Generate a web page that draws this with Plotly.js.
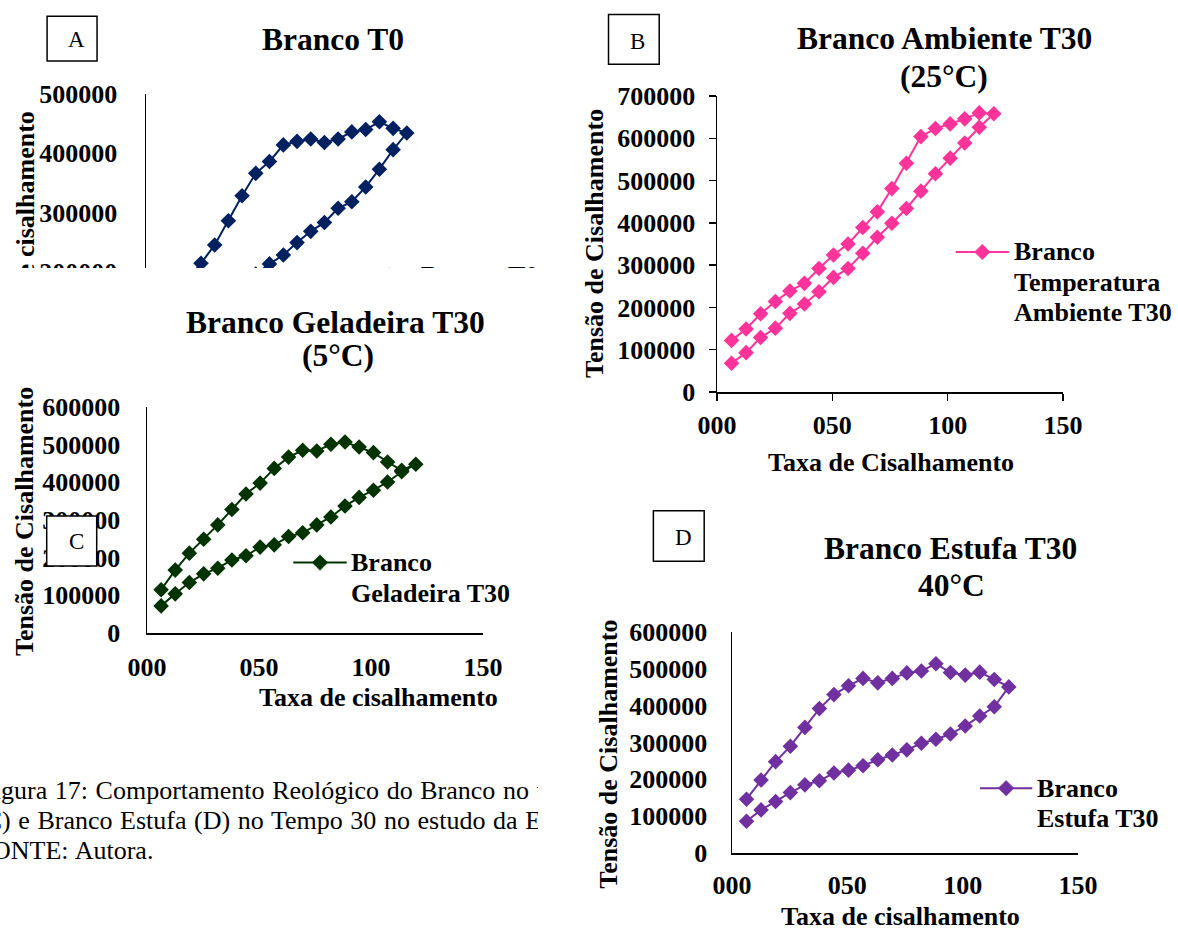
<!DOCTYPE html>
<html>
<head>
<meta charset="utf-8">
<script src="https://cdn.plot.ly/plotly-3.0.1.min.js"></script>
<style>
  html, body { margin: 0; padding: 0; background: #fff; }
  body { width: 1178px; height: 929px; position: relative; overflow: hidden; }
  .painel { position: absolute; }
  #legenda { position: absolute; left: 0; top: 760px; width: 538px; height: 120px; overflow: hidden;
             font-family: "Liberation Serif", "Times New Roman", serif; font-size: 26px; color: #000; }
  #legenda .linha { position: absolute; white-space: nowrap; line-height: 30px; word-spacing: 1.1px; }
  #legenda .antes { position: absolute; right: 100%; top: 0; white-space: nowrap; }
</style>
</head>
<body>
<div id="legenda">
  <div class="linha" style="left:1px; top:16px;"><span class="antes">Fi</span>gura 17: Comportamento Reológico do Branco no tempo zero (A), Branco Ambiente (B),</div>
  <div class="linha" style="left:2px; top:46px;"><span class="antes">Branco Geladeira (C</span>) e Branco Estufa (D) no Tempo 30 no estudo da Estabilidade.</div>
  <div class="linha" style="left:-8px; top:76px;"><span class="antes">F</span>ONTE: Autora.</div>
</div>
<div id="pA" class="painel"></div>
<div id="pB" class="painel"></div>
<div id="pC" class="painel"></div>
<div id="pD" class="painel"></div>
<script>
// Shear rate (1/s): up ramp, then down ramp
const taxaSubida = [6.3, 12.6, 18.9, 25.3, 31.6, 37.9, 44.2, 50.5, 56.8, 63.2, 69.5, 75.8, 82.1, 88.4, 94.7, 101.1, 107.4, 113.7, 120.0];
const taxaDescida = [113.7, 107.4, 101.1, 94.7, 88.4, 82.1, 75.8, 69.5, 63.2, 56.8, 50.5, 44.2, 37.9, 31.6, 25.3, 18.9, 12.6, 6.3];

// Shear stress — Branco T0
const tensaoT0Subida = [130000, 160000, 186000, 214000, 245000, 286000, 328000, 366000, 386000, 414000, 420000, 424000, 418000, 424000, 436000, 440000, 453000, 442000, 434000];
const tensaoT0Descida = [406000, 373000, 343000, 318000, 307000, 283000, 268000, 249000, 228000, 213000, 196000, 178000, 160000, 140000, 122000, 104000, 88000, 70000];

// Shear stress — Branco Ambiente T30 (25 °C)
const tensaoAmbSubida = [122000, 149000, 185000, 214000, 239000, 257000, 292000, 324000, 350000, 389000, 426000, 481000, 541000, 604000, 623000, 634000, 646000, 660000, 658000];
const tensaoAmbDescida = [626000, 589000, 553000, 516000, 475000, 434000, 399000, 366000, 328000, 292000, 271000, 237000, 208000, 186000, 151000, 129000, 93000, 68000];

// Shear stress — Branco Geladeira T30 (5 °C)
const tensaoGelSubida = [115000, 167000, 212000, 249000, 287000, 328000, 369000, 398000, 437000, 467000, 485000, 483000, 501000, 507000, 494000, 479000, 454000, 432000, 448000];
const tensaoGelDescida = [428000, 401000, 379000, 360000, 337000, 308000, 287000, 266000, 256000, 234000, 228000, 205000, 194000, 172000, 157000, 134000, 104000, 72000];

// Shear stress — Branco Estufa T30 (40 °C)
const tensaoEstSubida = [146000, 198000, 248000, 290000, 341000, 392000, 430000, 454000, 474000, 462000, 474000, 489000, 494000, 514000, 490000, 483000, 491000, 471000, 451000];
const tensaoEstDescida = [397000, 372000, 345000, 323000, 309000, 298000, 280000, 266000, 253000, 237000, 225000, 217000, 196000, 185000, 164000, 140000, 117000, 86000];

// Axis ticks
const ticksTaxa = [0, 50, 100, 150];
const rotulosTaxa = ['000', '050', '100', '150'];

const SERIF = '"Liberation Serif", "Times New Roman", serif';
const TAM_MARCADOR = 12;

// Page geometry of each panel (div box and plot-area margins, in px)
const geo = {
  A: {left: 0,   top: 0,   w: 560, h: 420, l: 145.7, r: 88,    t: 94,    b: 29.5},
  B: {left: 580, top: 0,   w: 598, h: 480, l: 136.5, r: 114.8, t: 95.7,  b: 87.7},
  C: {left: 0,   top: 268, w: 560, h: 462, l: 147,   r: 77,    t: 138.7, b: 96.7},
  D: {left: 540, top: 490, w: 638, h: 439, l: 191.8, r: 100.3, t: 141.7, b: 75.7}
};

// page pixel -> paper fraction of a panel
function px(g, X) { return (X - g.left - g.l) / (g.w - g.l - g.r); }
function py(g, Y) { return 1 - (Y - g.top - g.t) / (g.h - g.t - g.b); }

function texto(g, s, X, Y, size, extra) {
  return Object.assign({
    text: s, xref: 'paper', yref: 'paper', x: px(g, X), y: py(g, Y),
    xanchor: 'center', yanchor: 'middle', showarrow: false, borderpad: 0,
    font: {family: SERIF, size: size, color: '#000', weight: 'bold'}
  }, extra || {});
}

function letra(g, s, X, Y) {
  return texto(g, s, X, Y, 23, {font: {family: SERIF, size: 23, color: '#000', weight: 'normal'}});
}

function caixa(g, x0, y0, x1, y1) {
  return {type: 'rect', xref: 'paper', yref: 'paper', layer: 'above',
          x0: px(g, x0), x1: px(g, x1), y0: py(g, y1), y1: py(g, y0),
          line: {color: '#000', width: 1.5}, fillcolor: '#fff'};
}

// legend sample: short line with a diamond in its middle
function amostra(g, x0, x1, Y, cor) {
  const cx = (x0 + x1) / 2, rd = TAM_MARCADOR / 2 * 1.3;
  const path = 'M' + px(g, cx) + ',' + py(g, Y - rd) +
               ' L' + px(g, cx + rd) + ',' + py(g, Y) +
               ' L' + px(g, cx) + ',' + py(g, Y + rd) +
               ' L' + px(g, cx - rd) + ',' + py(g, Y) + ' Z';
  return [
    {type: 'line', xref: 'paper', yref: 'paper', layer: 'above',
     x0: px(g, x0), x1: px(g, x1), y0: py(g, Y), y1: py(g, Y), line: {color: cor, width: 2}},
    {type: 'path', xref: 'paper', yref: 'paper', layer: 'above', path: path,
     fillcolor: cor, line: {color: cor, width: 0.5}}
  ];
}

function serie(xUp, xDown, yUp, yDown, cor) {
  return [{
    type: 'scatter', mode: 'lines+markers',
    x: xUp.concat(xDown), y: yUp.concat(yDown),
    line: {color: cor, width: 2},
    marker: {symbol: 'diamond', size: TAM_MARCADOR, color: cor, line: {width: 0}},
    showlegend: false, hoverinfo: 'skip'
  }];
}

function layoutPainel(g, yMax, opt) {
  const fonte = {family: SERIF, size: opt.tick || 26, color: '#000', weight: 'bold'};
  const comum = {showline: true, linecolor: '#000', linewidth: 1.5, showgrid: false, zeroline: false,
                 ticks: opt.marcas ? 'outside' : '', ticklen: 7, tickwidth: 1.5, tickcolor: '#000',
                 tickfont: fonte, fixedrange: true};
  return {
    width: g.w, height: g.h,
    margin: {l: g.l, r: g.r, t: g.t, b: g.b, pad: 0},
    paper_bgcolor: '#fff', plot_bgcolor: '#fff',
    showlegend: false,
    xaxis: Object.assign({}, comum, {range: [0, 150], tickmode: 'array', tickvals: ticksTaxa, ticktext: rotulosTaxa,
                                     showticklabels: opt.rotX !== false, ticklabelstandoff: opt.stX || 0}),
    yaxis: Object.assign({}, comum, {range: [0, yMax], tick0: 0, dtick: 100000, tickformat: 'd',
                                     ticklabelstandoff: opt.stY || 0}),
    annotations: opt.anotacoes, shapes: opt.formas
  };
}

function desenha(id, g, dados, layout) {
  const el = document.getElementById(id);
  el.style.left = g.left + 'px'; el.style.top = g.top + 'px';
  el.style.width = g.w + 'px'; el.style.height = g.h + 'px';
  Plotly.newPlot(el, dados, layout, {displayModeBar: false, staticPlot: true});
}

// A — Branco T0
(function () {
  const g = geo.A, cor = '#002060';
  desenha('pA', g, serie(taxaSubida, taxaDescida, tensaoT0Subida, tensaoT0Descida, cor),
    layoutPainel(g, 500000, {
      rotX: false, stY: 22,
      anotacoes: [
        texto(g, 'Branco T0', 333, 39.3, 31.5),
        letra(g, 'A', 76, 39),
        texto(g, 'Tensão de cisalhamento', 25, 242, 26, {textangle: -90}),
        texto(g, 'Branco T0', 420, 276, 26, {xanchor: 'left'})
      ],
      formas: [caixa(g, 46.7, 16, 96.7, 61)].concat(amostra(g, 362.8, 415.8, 276, cor))
    }));
})();

// B — Branco Ambiente T30
(function () {
  const g = geo.B, cor = '#FF3399';
  desenha('pB', g, serie(taxaSubida, taxaDescida, tensaoAmbSubida, tensaoAmbDescida, cor),
    layoutPainel(g, 700000, {
      marcas: true, stY: 8, stX: 2,
      anotacoes: [
        texto(g, 'Branco Ambiente T30', 944.2, 38, 31.5),
        texto(g, '(25°C)', 944.2, 76, 31.5),
        letra(g, 'B', 637, 41),
        texto(g, 'Tensão de Cisalhamento', 593.3, 244, 26, {textangle: -90}),
        texto(g, 'Taxa de Cisalhamento', 890.8, 463, 26),
        texto(g, 'Branco', 1012.9, 252, 26, {xanchor: 'left'}),
        texto(g, 'Temperatura', 1012.9, 283, 26, {xanchor: 'left'}),
        texto(g, 'Ambiente T30', 1012.9, 313, 26, {xanchor: 'left'})
      ],
      formas: [caixa(g, 607.8, 14, 658.6, 64)].concat(amostra(g, 955.7, 1009, 252, cor))
    }));
})();

// C — Branco Geladeira T30
(function () {
  const g = geo.C, cor = '#003300';
  desenha('pC', g, serie(taxaSubida, taxaDescida, tensaoGelSubida, tensaoGelDescida, cor),
    layoutPainel(g, 600000, {
      stY: 20, stX: 10,
      anotacoes: [
        texto(g, 'Branco Geladeira T30', 335, 321.7, 31.5),
        texto(g, '(5°C)', 338, 355, 31.5),
        letra(g, 'C', 76, 542),
        texto(g, 'Tensão de Cisalhamento', 25, 522, 26, {textangle: -90}),
        texto(g, 'Taxa de cisalhamento', 378, 698, 26),
        texto(g, 'Branco', 350, 562.7, 26, {xanchor: 'left'}),
        texto(g, 'Geladeira T30', 350, 593.3, 26, {xanchor: 'left'})
      ],
      formas: [caixa(g, 46.7, 516, 96.7, 566)].concat(amostra(g, 293.3, 346.7, 562.7, cor))
    }));
})();

// D — Branco Estufa T30
(function () {
  const g = geo.D, cor = '#7030A0';
  desenha('pD', g, serie(taxaSubida, taxaDescida, tensaoEstSubida, tensaoEstDescida, cor),
    layoutPainel(g, 600000, {
      stY: 18, stX: 8,
      anotacoes: [
        texto(g, 'Branco Estufa T30', 950, 548.3, 31.5),
        texto(g, '40°C', 951, 585, 31.5),
        letra(g, 'D', 683, 537),
        texto(g, 'Tensão de Cisalhamento', 608.6, 754, 26, {textangle: -90}),
        texto(g, 'Taxa de cisalhamento', 900.4, 916.7, 26),
        texto(g, 'Branco', 1035.8, 788.3, 26, {xanchor: 'left'}),
        texto(g, 'Estufa T30', 1035.8, 818.3, 26, {xanchor: 'left'})
      ],
      formas: [caixa(g, 653.2, 510, 704, 560.7)].concat(amostra(g, 979.7, 1032, 788.3, cor))
    }));
})();
</script>
</body>
</html>
